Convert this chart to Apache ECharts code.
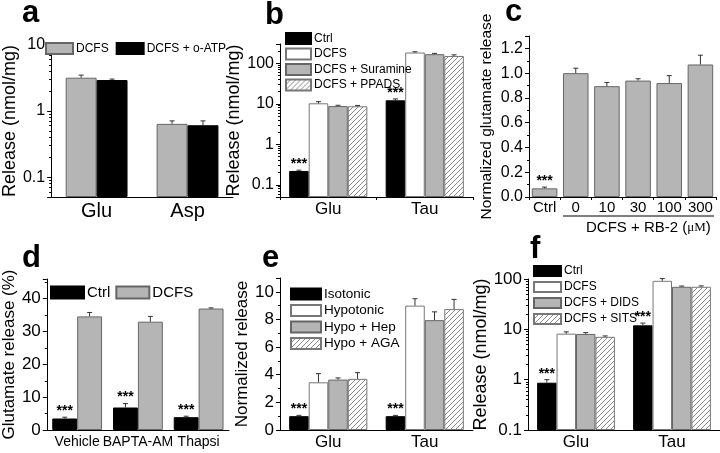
<!DOCTYPE html>
<html><head><meta charset="utf-8">
<script src="https://cdn.jsdelivr.net/npm/echarts@6/dist/echarts.min.js"></script>
<style>html,body{margin:0;padding:0;background:#fff}#c{width:720px;height:453px}</style>
</head><body><div id="c"></div>
<script>
// ---------------- data ----------------
// panel a
const catsA = ['Glu', 'Asp'];
const aDCFS = [3.2, 0.64];      const aDCFSErr = [0.3, 0.07];
const aOATP = [2.95, 0.61];     const aOATPErr = [0.1, 0.1];
// panel b
const catsB = ['Glu', 'Tau'];
const bCtrl = [0.22, 12.2];     const bCtrlErr = [0.01, 1.0];   const bCtrlSig = [1, 1];
const bDCFS = [10.3, 185];      const bDCFSErr = [1.0, 8];
const bSur = [8.8, 168];        const bSurErr = [0.4, 8];
const bPPADS = [8.7, 152];      const bPPADSErr = [0.4, 10];
// panel c
const catsC = ['Ctrl', '0', '10', '30', '100', '300'];
const cVal = [0.07, 1.0, 0.895, 0.94, 0.92, 1.07];
const cErr = [0.01, 0.04, 0.03, 0.015, 0.06, 0.075];
const cSig = [1, 0, 0, 0, 0, 0];
// panel d
const catsD = ['Vehicle', 'BAPTA-AM', 'Thapsi'];
const dCtrl = [3.5, 6.85, 3.9];     const dCtrlErr = [0.4, 1.2, 0.3];  const dCtrlSig = [1, 1, 1];
const dDCFS = [34.6, 33.0, 37.0];   const dDCFSErr = [1.2, 1.6, 0.2];
// panel e
const catsE = ['Glu', 'Tau'];
const eIso = [1.0, 1.0];        const eIsoErr = [0.06, 0.06];   const eIsoSig = [1, 1];
const eHypo = [3.45, 9.0];      const eHypoErr = [0.63, 0.5];
const eHep = [3.65, 7.95];      const eHepErr = [0.12, 0.6];
const eAGA = [3.7, 8.75];       const eAGAErr = [0.45, 0.7];
// panel f
const catsF = ['Glu', 'Tau'];
const fCtrl = [0.87, 12];       const fCtrlErr = [0.13, 1.3];   const fCtrlSig = [1, 1];
const fDCFS = [8.2, 92];        const fDCFSErr = [0.7, 10];
const fDIDS = [8.1, 70];        const fDIDSErr = [0.5, 2.5];
const fSITS = [7.1, 70];        const fSITSErr = [0.3, 3];

// ---------------- styles ----------------
const FONT = '"Liberation Sans", Arial, Helvetica, sans-serif';
function hatchPattern() {
  const c = document.createElement('canvas');
  c.width = 5; c.height = 5;
  const g = c.getContext('2d');
  g.fillStyle = '#fff'; g.fillRect(0, 0, 5, 5);
  g.strokeStyle = '#8a8a8a'; g.lineWidth = 1;
  g.beginPath();
  g.moveTo(0, 5); g.lineTo(5, 0);
  g.moveTo(-1, 1); g.lineTo(1, -1);
  g.moveTo(4, 6); g.lineTo(6, 4);
  g.stroke();
  return { image: c, repeat: 'repeat' };
}
const ST = {
  black: { color: '#000', borderColor: '#000', borderWidth: 1 },
  white: { color: '#fff', borderColor: '#777', borderWidth: 1 },
  gray: { color: '#b5b5b5', borderColor: '#666', borderWidth: 1 },
  hatch: { color: hatchPattern(), borderColor: '#777', borderWidth: 1 }
};

const panels = [
  { grid: { left: 38, top: 45, width: 195, height: 152 }, cats: catsA, log: true, min: 0.05, max: 10,
    hideMin: true, hideMax: false, gap: 0.32, catFont: 20, catMargin: 4, tickFont: 16,
    title: 'Release (nmol/mg)', titleFont: 18, nameGap: 22, catTicks: false,
    series: [
      { name: 'DCFS', v: aDCFS, e: aDCFSErr, st: 'gray' },
      { name: 'DCFS + o-ATP', v: aOATP, e: aOATPErr, st: 'black' }],
    legend: { left: 45, top: 42, orient: 'horizontal', itemWidth: 27, itemHeight: 11, itemGap: 7, fontSize: 12 } },
  { grid: { left: 280, top: 44, width: 193, height: 153 }, cats: catsB, log: true, min: 0.05, max: 300,
    hideMin: true, hideMax: true, gap: 0.19, catFont: 17, catMargin: 4, tickFont: 16,
    title: 'Release (nmol/mg)', titleFont: 18, nameGap: 25, catTicks: true,
    series: [
      { name: 'Ctrl ', v: bCtrl, e: bCtrlErr, sig: bCtrlSig, st: 'black' },
      { name: 'DCFS  ', v: bDCFS, e: bDCFSErr, st: 'white' },
      { name: 'DCFS + Suramine', v: bSur, e: bSurErr, st: 'gray' },
      { name: 'DCFS + PPADS', v: bPPADS, e: bPPADSErr, st: 'hatch' }],
    legend: { left: 285, top: 32, orient: 'vertical', itemWidth: 25, itemHeight: 11, itemGap: 2.5, fontSize: 12 } },
  { grid: { left: 529, top: 36, width: 187, height: 161 }, cats: catsC, log: false, min: 0, max: 1.3, interval: 0.2,
    hideMin: false, hideMax: true, gap: 0.18, catFont: 15, catMargin: 3, tickFont: 16,
    title: 'Normalized glutamate release', titleFont: 15.5, nameGap: 34, catTicks: true,
    labelFmt: v => v.toFixed(1),
    series: [{ name: 'RB-2', v: cVal, e: cErr, sig: cSig, st: 'gray' }], legend: null },
  { grid: { left: 39, top: 279, width: 190, height: 151 }, cats: catsD, log: false, min: 0, max: 46, interval: 10,
    hideMin: false, hideMax: true, gap: 0.18, catFont: 14, catMargin: 5, tickFont: 17,
    title: 'Glutamate release (%)', titleFont: 17, nameGap: 22, catTicks: false,
    series: [
      { name: 'Ctrl', v: dCtrl, e: dCtrlErr, sig: dCtrlSig, st: 'black' },
      { name: 'DCFS ', v: dDCFS, e: dDCFSErr, st: 'gray' }],
    legend: { left: 50, top: 285, orient: 'horizontal', itemWidth: 33, itemHeight: 12, itemGap: 5, fontSize: 15 } },
  { grid: { left: 280, top: 278, width: 193, height: 152 }, cats: catsE, log: false, min: 0, max: 11, interval: 2,
    hideMin: false, hideMax: true, gap: 0.19, catFont: 17, catMargin: 4, tickFont: 17,
    title: 'Normalized release', titleFont: 17, nameGap: 23, catTicks: false,
    series: [
      { name: 'Isotonic', v: eIso, e: eIsoErr, sig: eIsoSig, st: 'black' },
      { name: 'Hypotonic', v: eHypo, e: eHypoErr, st: 'white' },
      { name: 'Hypo + Hep', v: eHep, e: eHepErr, st: 'gray' },
      { name: 'Hypo + AGA', v: eAGA, e: eAGAErr, st: 'hatch' }],
    legend: { left: 290, top: 287, orient: 'vertical', itemWidth: 30, itemHeight: 11, itemGap: 2.5, fontSize: 13.5 } },
  { grid: { left: 528, top: 279, width: 192, height: 151 }, cats: catsF, log: true, min: 0.1, max: 100,
    hideMin: false, hideMax: false, gap: 0.19, catFont: 17, catMargin: 4, tickFont: 17,
    title: 'Release (nmol/mg)', titleFont: 18, nameGap: 28, catTicks: false,
    series: [
      { name: 'Ctrl  ', v: fCtrl, e: fCtrlErr, sig: fCtrlSig, st: 'black' },
      { name: 'DCFS   ', v: fDCFS, e: fDCFSErr, st: 'white' },
      { name: 'DCFS + DIDS', v: fDIDS, e: fDIDSErr, st: 'gray' },
      { name: 'DCFS + SITS', v: fSITS, e: fSITSErr, st: 'hatch' }],
    legend: { left: 533, top: 265, orient: 'vertical', itemWidth: 27, itemHeight: 10, itemGap: 4, fontSize: 12 } }
];

const grids = [], xAxes = [], yAxes = [], series = [], legends = [];
panels.forEach((p, gi) => {
  grids.push(Object.assign({ containLabel: false }, p.grid));
  xAxes.push({
    type: 'category', gridIndex: gi, data: p.cats,
    axisLine: { show: true, onZero: false, lineStyle: { color: '#000', width: 1 } },
    axisTick: { show: p.catTicks, length: 3, lineStyle: { color: '#000' } },
    axisLabel: { color: '#000', fontSize: p.catFont, fontFamily: FONT, margin: p.catMargin, interval: 0 },
    splitLine: { show: false }
  });
  const y = {
    type: p.log ? 'log' : 'value', gridIndex: gi, min: p.min, max: p.max,
    axisLine: { show: true, lineStyle: { color: '#000', width: 1 } },
    axisTick: { show: true, length: 4, lineStyle: { color: '#000' } },
    minorTick: { show: true, splitNumber: p.log ? 9 : 2, length: 2, lineStyle: { color: '#000' } },
    splitLine: { show: false }, minorSplitLine: { show: false },
    axisLabel: { color: '#000', fontSize: p.tickFont, fontFamily: FONT, margin: 6,
      showMinLabel: !p.hideMin, showMaxLabel: !p.hideMax },
    name: p.title, nameLocation: 'middle', nameGap: p.nameGap,
    nameTextStyle: { color: '#000', fontSize: p.titleFont, fontFamily: FONT }
  };
  if (p.interval) y.interval = p.interval;
  if (p.log) { y.logBase = 10; y.startValue = p.min; }
  if (p.labelFmt) y.axisLabel.formatter = p.labelFmt;
  yAxes.push(y);
  const n = p.series.length;
  p.series.forEach((s, i) => {
    series.push({
      type: 'bar', name: s.name, xAxisIndex: gi, yAxisIndex: gi, data: s.v,
      barGap: '0%', barCategoryGap: Math.round(p.gap * 100) + '%',
      itemStyle: ST[s.st], emphasis: { disabled: true }, silent: true
    });
    const data = s.v.map((v, k) => [k, v, s.e[k], s.sig ? s.sig[k] : 0]);
    series.push({
      type: 'custom', xAxisIndex: gi, yAxisIndex: gi, data: data, z: 5, silent: true, clip: false,
      renderItem: function (params, api) {
        const k = api.value(0), v = api.value(1), e = api.value(2), sig = api.value(3);
        const p0 = api.coord([k, v]);
        const band = api.size([1, 0])[0];
        const bw = band * (1 - p.gap) / n;
        const x = p0[0] - band * (1 - p.gap) / 2 + (i + 0.5) * bw;
        const y1 = api.coord([k, v + e])[1];
        const col = '#333';
        const ch = [
          { type: 'line', shape: { x1: x, y1: p0[1], x2: x, y2: y1 }, style: { stroke: col, lineWidth: 1 } },
          { type: 'line', shape: { x1: x - 2.5, y1: y1, x2: x + 2.5, y2: y1 }, style: { stroke: col, lineWidth: 1 } }
        ];
        if (sig) {
          ch.push({ type: 'text', x: x, y: y1 - 6,
            style: { text: '***', font: 'bold 14px ' + FONT, fill: '#000', align: 'center', verticalAlign: 'middle' } });
        }
        return { type: 'group', children: ch };
      }
    });
  });
  if (p.legend) {
    const L = p.legend;
    legends.push({
      left: L.left, top: L.top, orient: L.orient, itemWidth: L.itemWidth, itemHeight: L.itemHeight,
      itemGap: L.itemGap, padding: 0, selectedMode: false, icon: 'rect',
      data: p.series.map(s => s.name),
      textStyle: { color: '#000', fontSize: L.fontSize, fontFamily: FONT, padding: [0, 0, 0, -2] }
    });
  }
});

const letters = [['a', 22, 13], ['b', 265, 15], ['c', 505, 12], ['d', 22, 258], ['e', 262, 258], ['f', 530, 249]];
const graphic = letters.map(l => ({
  type: 'text', left: l[1], top: l[2] - 15,
  style: { text: l[0], font: 'bold 31px ' + FONT, fill: '#000' }
}));
graphic.push({ type: 'line', shape: { x1: 563, y1: 216, x2: 714, y2: 216 }, style: { stroke: '#000', lineWidth: 1 } });
graphic.push({ type: 'text', left: 586, top: 220,
  style: { text: '{a|DCFS + RB-2 (}{b|μM}{a|)}', fill: '#000',
    rich: { a: { fontSize: 15, fontFamily: FONT }, b: { fontSize: 13, fontFamily: '"Liberation Serif", serif' } } } });

const chart = echarts.init(document.getElementById('c'), null, { renderer: 'canvas' });
chart.setOption({
  animation: false, backgroundColor: '#fff',
  textStyle: { fontFamily: FONT },
  grid: grids, xAxis: xAxes, yAxis: yAxes, series: series, legend: legends, graphic: graphic
});
</script>
</body></html>
